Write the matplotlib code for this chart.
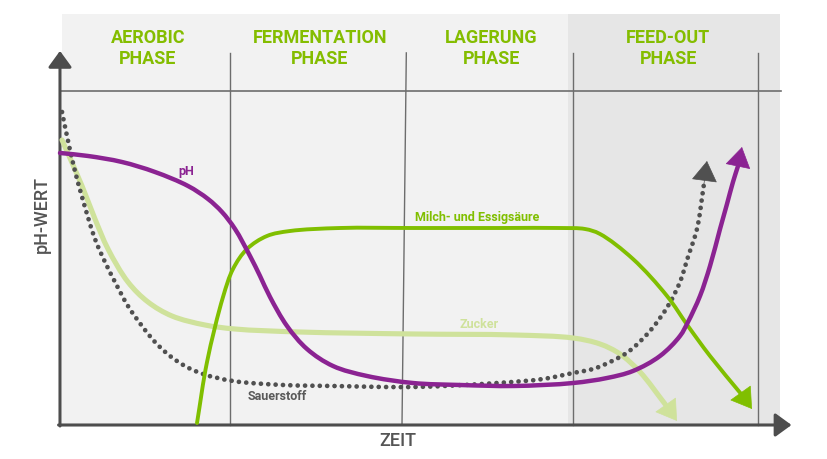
import matplotlib
matplotlib.use("Agg")
import numpy as np
import matplotlib.pyplot as plt
from matplotlib.patches import Rectangle, PathPatch
from matplotlib.path import Path

# ---------------- data (time 0-100, value 0-100) ----------------
phase_names = ["AEROBIC\nPHASE", "FERMENTATION\nPHASE", "LAGERUNG\nPHASE", "FEED-OUT\nPHASE"]
phase_edges = [0, 23.6, 47.8, 71.25, 96.9]

ph_x = [0.0, 3.89, 8.61, 13.19, 17.78, 20.56, 22.5, 24.31, 26.39, 27.78, 29.17, 31.53,
        34.31, 37.92, 42.64, 49.03, 55.56, 63.06, 71.25, 75.97, 79.58, 83.33, 86.11,
        87.22, 88.89, 90.28, 91.67, 92.64, 93.47, 94.17, 94.72]
ph_y = [81.44, 80.54, 78.74, 75.75, 71.56, 67.66, 63.77, 58.68, 50.6, 44.61, 38.32, 29.64,
        22.75, 17.66, 14.67, 12.57, 11.98, 11.68, 12.57, 14.07, 16.17, 20.66, 26.65,
        30.84, 38.62, 47.6, 58.68, 66.17, 72.75, 77.54, 83.23]

acid_x = [19.03, 20.42, 22.64, 24.03, 25.97, 28.75, 31.94, 38.89, 49.03, 61.11, 69.44,
          72.92, 75.0, 79.58, 84.31, 87.22, 90.28, 94.72, 96.11]
acid_y = [0.6, 18.86, 38.32, 46.71, 52.69, 56.59, 58.08, 58.98, 58.98, 58.98, 58.98,
          58.68, 57.19, 49.7, 38.62, 29.64, 20.66, 8.98, 4.79]

sugar_x = [0.28, 3.06, 4.86, 6.67, 9.44, 12.22, 15.56, 20.14, 24.31, 33.33, 49.03, 63.06,
           71.25, 75.0, 77.78, 80.56, 84.03, 85.69]
sugar_y = [85.33, 71.56, 61.68, 52.69, 42.81, 36.83, 32.63, 29.94, 28.74, 27.84, 27.25, 26.95,
           26.05, 24.25, 21.26, 15.87, 6.29, 1.2]

oxy_x = [0.28, 0.97, 1.94, 3.06, 4.86, 6.25, 7.64, 9.44, 11.39, 13.19, 15.28, 17.36, 19.86,
         24.03, 30.97, 37.92, 49.17, 60.69, 67.08, 71.25, 74.03, 76.39, 78.89, 81.94,
         84.44, 86.11, 87.22, 88.47, 89.44, 89.86]
oxy_y = [93.71, 86.53, 77.25, 68.26, 55.69, 48.8, 42.81, 35.63, 29.64, 24.85, 20.66, 17.66,
         15.27, 13.17, 11.98, 11.68, 11.38, 12.57, 13.77, 15.57, 16.77, 18.86, 21.86, 28.14,
         35.63, 42.81, 50.3, 58.68, 72.16, 79.04]

# ---------------- styles ----------------
PURPLE = "#8b2392"
GREEN = "#80bf00"
LIGHT = "#cfe29b"
GREY = "#505050"
HEAD = "#84bd00"
FONT = "Roboto"

fig = plt.figure(figsize=(8.28, 4.6), dpi=100)
ax = fig.add_axes([0, 0, 1, 1])
ax.set_xlim(-8.333, 106.667)
ax.set_ylim(-10.18, 127.54)
ax.axis("off")

# backgrounds
ax.add_patch(Rectangle((0.28, 0), 100 - 0.28, 123, color="#f2f2f2", zorder=0, lw=0))
ax.add_patch(Rectangle((70.6, 0), 100 - 70.6, 123, color="#e6e6e6", zorder=0, lw=0))

# horizontal line
ax.plot([0, 100.2], [100, 100], color="#6d6d6d", lw=1.2, zorder=1)
# phase separators
for i, e in enumerate(phase_edges[1:]):
    if i == 1:
        ax.plot([e + 0.3, e - 0.3], [111.4, 0], color="#6d6d6d", lw=1.0, zorder=1)
    else:
        ax.plot([e, e], [111.4, 0], color="#6d6d6d", lw=1.0, zorder=1)

# phase headers
for i, name in enumerate(phase_names):
    cx = (phase_edges[i] + phase_edges[i + 1]) / 2
    ax.text(cx + 0.4, 113.0, name, ha="center", va="center", color=HEAD, fontsize=13,
            fontweight="bold", family=FONT, linespacing=1.22, zorder=3)

# axes with arrows
for xy, xyt in [((0, 112), (0, -0.3)), ((101.6, 0), (-0.2, 0))]:
    ax.annotate("", xy=xy, xytext=xyt,
                arrowprops=dict(arrowstyle="-|>,head_length=0.55,head_width=0.4",
                                mutation_scale=18, color="#4d4d4d", lw=2.2,
                                shrinkA=0, shrinkB=0), zorder=4)

ax.text(-2.5, 63.3, "pH-WERT", rotation=90, ha="center", va="center", color="#555555",
        fontsize=13, family=FONT, fontweight="medium")
ax.text(46.9, -4.6, "ZEIT", ha="center", va="center", color="#555555",
        fontsize=13, family=FONT, fontweight="medium")


def smooth_path(xs, ys):
    """Centripetal Catmull-Rom through the read points, drawn as cubic Beziers."""
    pts = ax.transData.transform(np.column_stack([xs, ys]))
    n = len(pts)
    ext = np.vstack([2 * pts[0] - pts[1], pts, 2 * pts[-1] - pts[-2]])
    verts = [pts[0]]
    codes = [Path.MOVETO]
    for i in range(n - 1):
        p0, p1, p2, p3 = ext[i], ext[i + 1], ext[i + 2], ext[i + 3]
        d1 = max(np.linalg.norm(p1 - p0), 1e-6)
        d2 = max(np.linalg.norm(p2 - p1), 1e-6)
        d3 = max(np.linalg.norm(p3 - p2), 1e-6)
        s1, s2, s3 = np.sqrt(d1), np.sqrt(d2), np.sqrt(d3)
        b1 = (d1 * p2 - d2 * p0 + (2 * d1 + 3 * s1 * s2 + d2) * p1) / (3 * s1 * (s1 + s2))
        b2 = (d3 * p1 - d2 * p3 + (2 * d3 + 3 * s3 * s2 + d2) * p2) / (3 * s3 * (s3 + s2))
        verts += [b1, b2, p2]
        codes += [Path.CURVE4] * 3
    verts = ax.transData.inverted().transform(np.array(verts))
    return Path(verts, codes)


def curve(xs, ys, color, lw, ls="-", z=5):
    path = smooth_path(xs[:-1], ys[:-1])
    pp = PathPatch(path, fill=False, edgecolor=color, lw=lw, linestyle=ls,
                   capstyle="round", joinstyle="round", zorder=z)
    ax.add_patch(pp)
    ax.annotate("", xy=(xs[-1], ys[-1]), xytext=(xs[-2], ys[-2]),
                arrowprops=dict(arrowstyle="-|>,head_length=0.68,head_width=0.43",
                                mutation_scale=20, color=color, lw=0.5,
                                shrinkA=0, shrinkB=0), zorder=z)


curve(sugar_x, sugar_y, LIGHT, 3.7, z=5)
curve(oxy_x, oxy_y, GREY, 3.4, ls=(0, (0.01, 1.55)), z=6)
curve(acid_x, acid_y, GREEN, 2.8, z=7)
curve(ph_x, ph_y, PURPLE, 3.2, z=8)

# curve labels
ax.text(17.6, 76.3, "pH", color=PURPLE, fontsize=9, fontweight="bold", family=FONT,
        ha="center", va="center", zorder=9)
ax.text(58.0, 62.3, "Milch- und Essigsäure", color=GREEN, fontsize=9, fontweight="bold",
        family=FONT, ha="center", va="center", zorder=9)
ax.text(58.2, 30.5, "Zucker", color=LIGHT, fontsize=9, fontweight="bold",
        family=FONT, ha="center", va="center", zorder=9)
ax.text(30.2, 8.8, "Sauerstoff", color="#5a5a5a", fontsize=9, fontweight="bold",
        family=FONT, ha="center", va="center", zorder=9)

fig.savefig("out.png", dpi=100, facecolor="white")
